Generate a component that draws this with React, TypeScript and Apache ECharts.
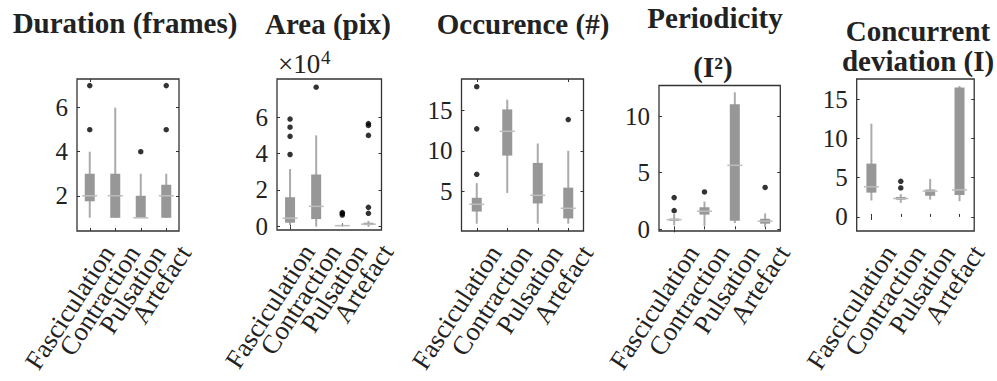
import React, { useEffect, useRef } from "react";
import * as echarts from "echarts";

const categories = ["Fasciculation", "Contraction", "Pulsation", "Artefact"];

// Box statistics per category: [min whisker, q1, median, q3, max whisker]
const durationBoxes = [
  [1, 1.75, 2, 3, 4],
  [1, 1, 2, 3, 6],
  [1, 1, 1, 2, 3],
  [1, 1, 2, 2.5, 3],
];
const durationOutliers = [[0, 5], [0, 7], [2, 4], [3, 5], [3, 7]];

// Area in units of 1e4 pixels
const areaBoxes = [
  [0.08, 0.2, 0.45, 1.6, 3.15],
  [0, 0.4, 1.1, 2.85, 5.0],
  [0, 0.02, 0.04, 0.06, 0.1],
  [0, 0.07, 0.12, 0.2, 0.3],
];
const areaOutliers = [
  [0, 3.95], [0, 4.95], [0, 5.45], [0, 5.9],
  [1, 7.65],
  [2, 0.62], [2, 0.7], [2, 0.76],
  [3, 0.72], [3, 1.05], [3, 5.0], [3, 5.55], [3, 5.65],
];

const occurenceBoxes = [
  [1, 2.5, 3.4, 4.2, 6],
  [4.8, 9.4, 12.4, 15.1, 16.3],
  [1, 3.5, 4.5, 8.5, 10.9],
  [1, 1.65, 2.9, 5.45, 10],
];
const occurenceOutliers = [[0, 7.1], [0, 12.7], [0, 17.9], [3, 13.85]];

const periodicityBoxes = [
  [0.35, 0.75, 0.85, 0.95, 1.35],
  [0.3, 1.3, 1.6, 1.95, 2.45],
  [0.55, 0.75, 5.65, 11.05, 12.1],
  [0.2, 0.5, 0.72, 0.93, 1.4],
];
const periodicityOutliers = [[0, 1.65], [0, 2.8], [1, 3.3], [3, 3.7]];

const deviationBoxes = [
  [2.1, 3.1, 3.85, 6.8, 11.9],
  [1.8, 2.2, 2.35, 2.55, 2.9],
  [2.2, 2.7, 3.3, 3.5, 4.85],
  [2.0, 2.8, 3.45, 16.5, 16.7],
];
const deviationOutliers = [[1, 3.7], [1, 4.55]];

const durationTicks = [2, 4, 6];
const areaTicks = [0, 2, 4, 6];
const occurenceTicks = [5, 10, 15];
const periodicityTicks = [0, 5, 10];
const deviationTicks = [0, 5, 10, 15];

const SERIF = "Liberation Serif, Times New Roman, Times, DejaVu Serif, serif";

const panels = [
  { boxes: durationBoxes, outliers: durationOutliers, ticks: durationTicks, min: 0.4, max: 7.3,
    grid: { left: 77, top: 79, width: 102, height: 154 } },
  { boxes: areaBoxes, outliers: areaOutliers, ticks: areaTicks, min: -0.2, max: 8.1,
    grid: { left: 277, top: 79, width: 104.5, height: 151 } },
  { boxes: occurenceBoxes, outliers: occurenceOutliers, ticks: occurenceTicks, min: 0.1, max: 18.85,
    grid: { left: 461.5, top: 79, width: 122, height: 155.5 } },
  { boxes: periodicityBoxes, outliers: periodicityOutliers, ticks: periodicityTicks, min: -0.15, max: 12.7,
    grid: { left: 659, top: 85.5, width: 121.3, height: 146 } },
  { boxes: deviationBoxes, outliers: deviationOutliers, ticks: deviationTicks, min: -1.8, max: 17.6,
    grid: { left: 856.7, top: 79, width: 126, height: 155 } },
];

const BOX_COLOR = "#979797";
const WHISKER_COLOR = "#ababab";
const MEDIAN_COLOR = "#bdbdbd";
const FRAME_COLOR = "#333333";
const TEXT_COLOR = "#222222";

function renderBox(params: any, api: any) {
  const i = api.value(0);
  const pMin = api.coord([i, api.value(1)]);
  const pQ1 = api.coord([i, api.value(2)]);
  const pMed = api.coord([i, api.value(3)]);
  const pQ3 = api.coord([i, api.value(4)]);
  const pMax = api.coord([i, api.value(5)]);
  const cx = pMed[0];
  const bw = 10;
  const mw = 15;
  return {
    type: "group",
    children: [
      {
        type: "line",
        shape: { x1: cx, y1: pMin[1], x2: cx, y2: pMax[1] },
        style: { stroke: WHISKER_COLOR, lineWidth: 2 },
      },
      {
        type: "rect",
        shape: { x: cx - bw / 2, y: pQ3[1], width: bw, height: Math.max(pQ1[1] - pQ3[1], 0.8) },
        style: { fill: BOX_COLOR },
      },
      {
        type: "line",
        shape: { x1: cx - mw / 2, y1: pMed[1], x2: cx + mw / 2, y2: pMed[1] },
        style: { stroke: MEDIAN_COLOR, lineWidth: 1.5 },
      },
    ],
  };
}

export default function App() {
  const ref = useRef<HTMLDivElement>(null);
  useEffect(() => {
    if (!ref.current) return;
    const chart = echarts.init(ref.current, undefined, { renderer: "svg" });

    const grids: any[] = [];
    const xAxes: any[] = [];
    const yAxes: any[] = [];
    const series: any[] = [];

    panels.forEach((p, k) => {
      grids.push({
        ...p.grid,
        show: true,
        borderColor: FRAME_COLOR,
        borderWidth: 1.3,
        backgroundColor: "transparent",
      });
      const tickStyle = { color: FRAME_COLOR, width: 1 };
      xAxes.push({
        type: "category",
        gridIndex: k,
        data: categories,
        position: "bottom",
        axisLine: { show: false },
        axisTick: { show: true, inside: true, alignWithLabel: true, length: 3, lineStyle: tickStyle },
        axisLabel: {
          show: true,
          interval: 0,
          rotate: 57,
          align: "right",
          verticalAlign: "top",
          lineHeight: 44,
          margin: 5,
          fontFamily: SERIF,
          fontSize: 26.5,
          color: TEXT_COLOR,
        },
        splitLine: { show: false },
      });
      xAxes.push({
        type: "category",
        gridIndex: k,
        data: categories,
        position: "top",
        axisLine: { show: false },
        axisTick: { show: true, inside: true, alignWithLabel: true, length: 3, lineStyle: tickStyle },
        axisLabel: { show: false },
        splitLine: { show: false },
      });
      yAxes.push({
        type: "value",
        gridIndex: k,
        position: "left",
        min: p.min,
        max: p.max,
        axisLine: { show: false },
        axisTick: { show: true, inside: true, length: 3, lineStyle: tickStyle, customValues: p.ticks },
        axisLabel: {
          show: true,
          customValues: p.ticks,
          margin: 9,
          fontFamily: SERIF,
          fontSize: 25,
          color: TEXT_COLOR,
        },
        splitLine: { show: false },
      });
      yAxes.push({
        type: "value",
        gridIndex: k,
        position: "right",
        min: p.min,
        max: p.max,
        axisLine: { show: false },
        axisTick: { show: true, inside: true, length: 3, lineStyle: tickStyle, customValues: p.ticks },
        axisLabel: { show: false },
        splitLine: { show: false },
      });
      series.push({
        type: "custom",
        xAxisIndex: 2 * k,
        yAxisIndex: 2 * k,
        renderItem: renderBox,
        encode: { x: 0, y: [1, 2, 3, 4, 5] },
        data: p.boxes.map((b, i) => [i, ...b]),
        z: 2,
      });
      series.push({
        type: "scatter",
        xAxisIndex: 2 * k,
        yAxisIndex: 2 * k,
        symbol: "circle",
        symbolSize: 5.5,
        itemStyle: { color: "#000000" },
        data: p.outliers,
        z: 3,
      });
    });

    const titleStyle = (text: string) => ({
      text,
      fontFamily: SERIF,
      fontWeight: "bold",
      fontSize: 29,
      fill: TEXT_COLOR,
      align: "center",
      verticalAlign: "middle",
    });

    const graphic: any[] = [
      { type: "text", x: 125, y: 23, style: titleStyle("Duration (frames)") },
      { type: "text", x: 328, y: 23.5, style: titleStyle("Area (pix)") },
      { type: "text", x: 523, y: 24, style: titleStyle("Occurence (#)") },
      { type: "text", x: 715, y: 17.5, style: titleStyle("Periodicity") },
      { type: "text", x: 713, y: 66.5, style: titleStyle("(I²)") },
      { type: "text", x: 918, y: 31.3, style: titleStyle("Concurrent") },
      { type: "text", x: 918, y: 61.2, style: titleStyle("deviation (I)") },
      {
        type: "text", x: 278, y: 64,
        style: { text: "×10", fontFamily: SERIF, fontSize: 27, fill: TEXT_COLOR, align: "left", verticalAlign: "middle" },
      },
      {
        type: "text", x: 321, y: 57.5,
        style: { text: "4", fontFamily: SERIF, fontSize: 19, fill: TEXT_COLOR, align: "left", verticalAlign: "middle" },
      },
    ];

    chart.setOption({
      animation: false,
      backgroundColor: "#ffffff",
      grid: grids,
      xAxis: xAxes,
      yAxis: yAxes,
      series,
      graphic,
    });
    return () => chart.dispose();
  }, []);

  return (
    <div
      ref={ref}
      style={{ position: "fixed", left: 0, top: 0, width: 997, height: 381 }}
    />
  );
}
